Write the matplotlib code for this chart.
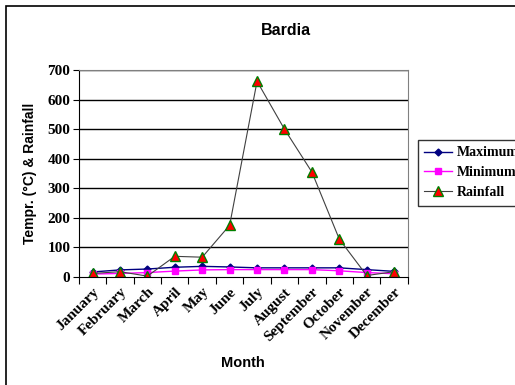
import numpy as np
import matplotlib.pyplot as plt
import matplotlib.patches as mpatches

months = ['January', 'February', 'March', 'April', 'May', 'June', 'July',
          'August', 'September', 'October', 'November', 'December']
maximum = [17, 24, 27, 33, 36, 34, 31, 31, 31, 31, 25, 19]
minimum = [10, 12, 15, 20, 24, 25, 25, 25, 25, 21, 15, 11]
rainfall = [12, 18, 3, 70, 67, 175, 662, 500, 355, 128, 5, 18]
yticks = [0, 100, 200, 300, 400, 500, 600, 700]

serif = 'Liberation Serif'
sans = 'Liberation Sans'

fig = plt.figure(figsize=(5.15, 3.85), dpi=100)
ax = fig.add_axes([0.153, 0.2805, 0.639, 0.5375])

x = np.arange(len(months))
ax.plot(x, maximum, color='navy', marker='D', markersize=3.5, lw=1, label='Maximum')
ax.plot(x, minimum, color='magenta', marker='s', markersize=4.5, lw=1, label='Minimum')
ax.plot(x, rainfall, color='#404040', marker='^', markersize=7, lw=0.8,
        markerfacecolor='red', markeredgecolor='green', markeredgewidth=1,
        label='Rainfall')

ax.set_xlim(-0.5, 11.5)
ax.set_ylim(0, 700)
ax.set_yticks(yticks)
ax.set_yticklabels([str(v) for v in yticks], fontfamily=serif,
                   fontweight='bold', fontsize=11)
ax.set_xticks(np.arange(-0.5, 12, 1))
ax.set_xticklabels([])
ax.set_xticks(x, minor=True)
ax.set_xticklabels(months, minor=True, rotation=45, ha='right',
                   rotation_mode='anchor', fontfamily=serif,
                   fontweight='bold', fontsize=11)
ax.tick_params(axis='x', which='minor', length=0, pad=6)
ax.tick_params(axis='x', which='major', length=5, direction='out', color='black')
ax.tick_params(axis='y', length=4, direction='out', color='black', pad=2)

for v in yticks[1:]:
    ax.axhline(v, color='black', lw=1, zorder=0)
for side in ['top', 'right']:
    ax.spines[side].set_color('gray')
for side in ['left', 'bottom']:
    ax.spines[side].set_color('black')

fig.text(0.555, 0.922, 'Bardia', ha='center', va='center',
         fontfamily=sans, fontweight='bold', fontsize=11.5)
fig.text(0.472, 0.058, 'Month', ha='center', va='center',
         fontfamily=sans, fontweight='bold', fontsize=10.5)
fig.text(0.058, 0.55, 'Tempr. (°C) & Rainfall', ha='center', va='center',
         rotation=90, fontfamily=sans, fontweight='bold', fontsize=10)

leg = fig.legend(loc='upper left', bbox_to_anchor=(0.812, 0.636),
                 prop={'family': serif, 'weight': 'bold', 'size': 10},
                 frameon=True, fancybox=False, borderpad=0.45,
                 handlelength=2.0, labelspacing=0.5, handletextpad=0.3,
                 borderaxespad=0)
leg.get_frame().set_edgecolor('black')
leg.get_frame().set_linewidth(1)

border = mpatches.Rectangle((0.012, -0.1), 1.2, 1.084, transform=fig.transFigure,
                            fill=False, edgecolor='black', lw=1.2, clip_on=False)
fig.patches.append(border)

fig.savefig('out.png', dpi=100)
